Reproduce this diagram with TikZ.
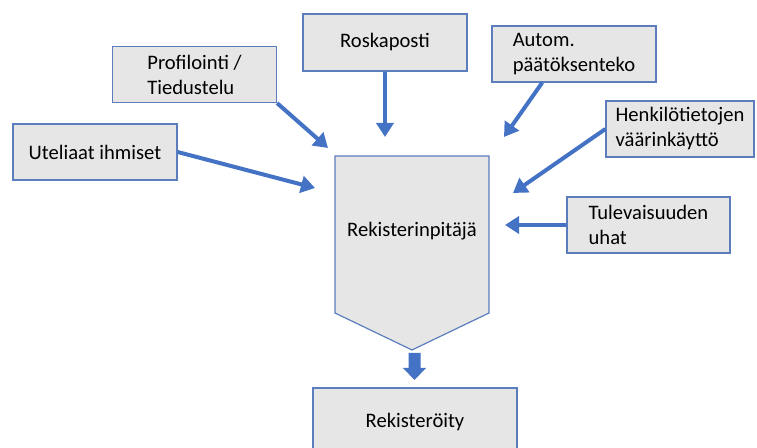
\documentclass[tikz,border=0pt]{standalone}
\usepackage{fontspec}
\setmainfont{Carlito}
\usetikzlibrary{arrows.meta}
\definecolor{boxgray}{HTML}{E7E6E6}
\definecolor{boxline}{HTML}{5B7DBE}
\definecolor{arrblue}{HTML}{4472C4}
\tikzset{
    box/.style={draw=boxline, fill=boxgray, line width=0.6pt, inner sep=0pt,
        minimum width=82pt, minimum height=28pt, align=left,
        font=\fontsize{10.3}{12.5}\selectfont},
    arr/.style={draw=arrblue, line width=2pt, -{Triangle[length=7pt,width=8.5pt]}}
}
\begin{document}
\begin{tikzpicture}[x=0.5pt,y=-0.5pt]
    \clip (0,0) rectangle (757,448);
    \node[box] (prof) at (194.5,74.5) {Profilointi /\\Tiedustelu};
    \node[box] (utel) at (95,152) {Uteliaat ihmiset};
    \node[box, minimum height=28.5pt] (rosk) at (385,42.5) {Roskaposti};
    \node[box] (autom) at (574,54) {Autom.\\päätöksenteko};
    \node[box, minimum width=74pt] (henk) at (680,129) {Henkilötietojen\\väärinkäyttö};
    \node[box, minimum width=81.5pt] (tulev) at (648.5,225) {Tulevaisuuden\\uhat};
    \draw[draw=boxline, fill=boxgray, line width=0.6pt]
        (335,156) -- (489,156) -- (489,313) -- (412,350) -- (335,313) -- cycle;
    \node[font=\fontsize{10.3}{12.5}\selectfont] (pitaja) at (412,231) {Rekisterinpitäjä};
    \node[box, minimum width=102pt, minimum height=34pt] (rekist) at (415,422) {Rekisteröity};
    \coordinate (tProf) at (328,148);
    \coordinate (tUtel) at (315,188);
    \coordinate (tRosk) at (385,137);
    \coordinate (tAutom) at (504,137);
    \coordinate (tHenk) at (513,193);
    \coordinate (tTulev) at (505,225);
    \draw[arr] (prof.south east) -- (tProf);
    \draw[arr] (utel.east) -- (tUtel);
    \draw[arr] (rosk.south) -- (tRosk);
    \draw[arr] (autom.222) -- (tAutom);
    \draw[arr] (henk.west) -- (tHenk);
    \draw[arr] (tulev.west) -- (tTulev);
    \fill[arrblue] (408.5,353) -- (420.5,353) -- (420.5,368) -- (426,368) -- (414.5,380)
        -- (403,368) -- (408.5,368) -- cycle;
\end{tikzpicture}
\end{document}
